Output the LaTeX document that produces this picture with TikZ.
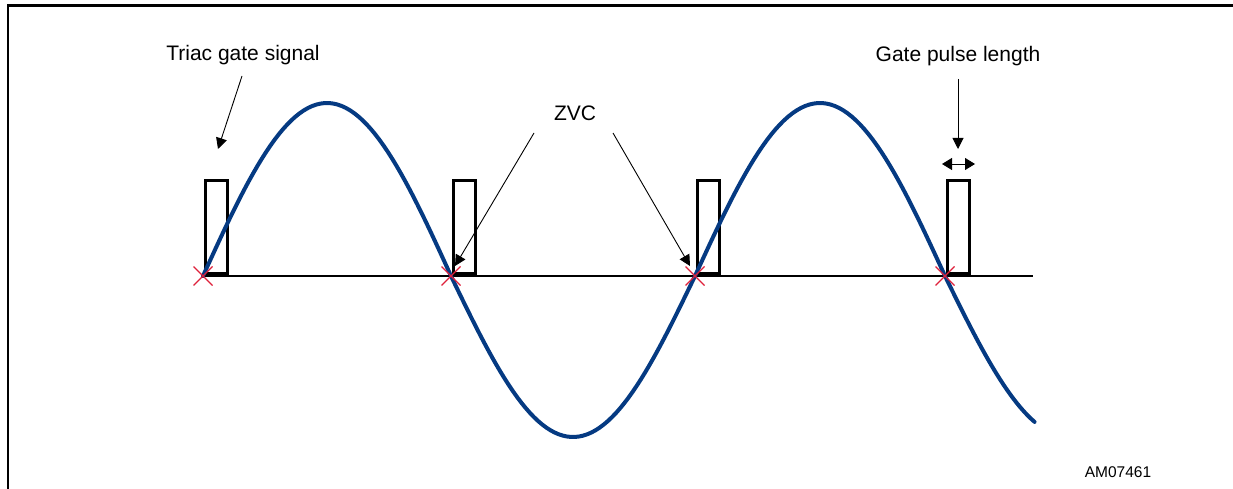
\documentclass[tikz,border=0pt]{standalone}
\usepackage{fontspec}
\setmainfont{Liberation Sans}
\usetikzlibrary{arrows.meta,calc}

\definecolor{wave}{RGB}{5,58,130}
\definecolor{zvc}{RGB}{222,32,58}

\begin{document}
\begin{tikzpicture}[x=1pt, y=-1pt,
  lbl/.style={font=\fontsize{21}{25}\selectfont, inner sep=0pt},
  pulse/.style={draw, line width=2.6pt, minimum width=22pt, minimum height=93pt, inner sep=0pt, anchor=south west},
  callout/.style={-{Triangle[length=11pt,width=11pt]}, line width=0.9pt},
  zx/.style={zvc, line width=1.1pt}]
  \useasboundingbox (0,0) rectangle (1233,489);
  \clip (0,0) rectangle (1233,489);
  \draw[line width=2.2pt] (8,5.5) rectangle (1245,500);

  % time axis
  \coordinate (t0) at (203,276);
  \coordinate (t1) at (1033,276);
  \draw[line width=1.4pt] (t0) -- (t1);

  % gate pulses at each zero crossing
  \foreach \x/\n in {203/1,451/2,695/3,945/4}{
    \node[pulse] (p\n) at (\x+1.3,276-1.3) {};
  }

  % mains voltage
  \draw[wave, line width=4pt, line cap=round]
    plot[domain=0:180, samples=60] ({203+\x/180*248},{276-173*sin(\x)})
    -- plot[domain=0:180, samples=60] ({451+\x/180*244},{276+161*sin(\x)})
    -- plot[domain=0:180, samples=60] ({695+\x/180*250},{276-173*sin(\x)})
    -- plot[domain=0:65, samples=30] ({945+\x/180*248},{276+161*sin(\x)});

  % zero voltage crossings
  \foreach \x/\n in {203/1,451/2,695/3,945/4}{
    \coordinate (z\n) at (\x,276);
    \draw[zx] ($(z\n)+(-9.5,-9.5)$) -- ($(z\n)+(9.5,9.5)$);
    \draw[zx] ($(z\n)+(-9.5,9.5)$) -- ($(z\n)+(9.5,-9.5)$);
  }

  % labels
  \node[lbl] (triac) at (243,55) {Triac gate signal};
  \node[lbl] (zvclbl) at (575,113) {ZVC};
  \node[lbl] (gpl) at (958,56) {Gate pulse length};
  \node[font=\fontsize{15.5}{18}\selectfont, inner sep=0pt] (code) at (1118,472) {AM07461};

  \coordinate (a1) at (242,76);  \coordinate (b1) at (218,149);
  \coordinate (a2) at (534,133); \coordinate (b2) at (455,266);
  \coordinate (a3) at (613,133); \coordinate (b3) at (690,266);
  \coordinate (a4) at (958,79);  \coordinate (b4) at (958,149);
  \coordinate (w1) at (942,164); \coordinate (w2) at (975,164);

  \draw[callout] (a1) -- (b1);
  \draw[callout] (a2) -- (b2);
  \draw[callout] (a3) -- (b3);
  \draw[callout] (a4) -- (b4);
  \draw[{Triangle[length=10pt,width=12pt]}-{Triangle[length=10pt,width=12pt]}, line width=0.9pt] (w1) -- (w2);
\end{tikzpicture}
\end{document}
